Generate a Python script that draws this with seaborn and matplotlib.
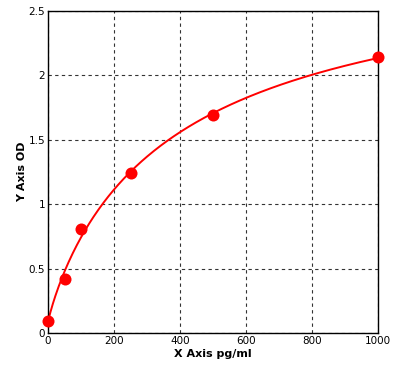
import numpy as np
import pandas as pd
import matplotlib
matplotlib.use("Agg")
import matplotlib.pyplot as plt
import seaborn as sns

# Standard points
conc = [0, 50, 100, 250, 500, 1000]
od = [0.09, 0.42, 0.81, 1.24, 1.69, 2.14]

x_ticks = [0, 200, 400, 600, 800, 1000]
y_ticks = [0, 0.5, 1, 1.5, 2, 2.5]
y_tick_labels = ["0", "0.5", "1", "1.5", "2", "2.5"]

# 4-parameter logistic fit of the standards (grid over b, c; linear in a, d)
xs = np.array(conc, float)
ys = np.array(od, float)
best = None
for b in np.linspace(0.3, 2.0, 86):
    for c in np.geomspace(50, 20000, 200):
        f = 1.0 / (1.0 + (xs / c) ** b)
        A = np.column_stack([np.ones_like(f), f])
        coef, *_ = np.linalg.lstsq(A, ys, rcond=None)
        r = np.sum((A @ coef - ys) ** 2)
        if best is None or r < best[0]:
            best = (r, b, c, coef)
_, b, c, coef = best
xf = np.linspace(0, 1000, 400)
yf = coef[0] + coef[1] / (1.0 + (xf / c) ** b)
fit = pd.DataFrame({"x": xf, "y": yf})
pts = pd.DataFrame({"x": conc, "y": od})

sns.set_style("white")
plt.rcParams["font.family"] = ["DejaVu Sans"]
fig = plt.figure(figsize=(4.17, 3.82), dpi=100)
ax = fig.add_axes([48 / 417, 49 / 382, 330 / 417, 322.3 / 382])

sns.lineplot(data=fit, x="x", y="y", ax=ax, color="#ff0000", linewidth=1.4)
sns.scatterplot(data=pts, x="x", y="y", ax=ax, color="#ff0000", s=75,
                marker="o", edgecolor="#ff0000", linewidth=0, zorder=5, clip_on=False)

ax.set_xlim(0, 1000)
ax.set_ylim(0, 2.5)
ax.set_xticks(x_ticks)
ax.set_yticks(y_ticks)
ax.set_yticklabels(y_tick_labels)
ax.tick_params(axis="both", length=0, labelsize=7.5, pad=2, colors="black")
ax.grid(True, color="#333333", linestyle=(0, (3, 3)), linewidth=0.8)
for s in ax.spines.values():
    s.set_visible(True)
    s.set_color("black")
    s.set_linewidth(1.0)
ax.set_xlabel("X Axis pg/ml", fontsize=8, fontweight="bold", labelpad=2, color="black")
ax.set_ylabel("Y Axis OD", fontsize=8, fontweight="bold", labelpad=1, color="black")

fig.savefig("out.png", dpi=100, facecolor="white")
